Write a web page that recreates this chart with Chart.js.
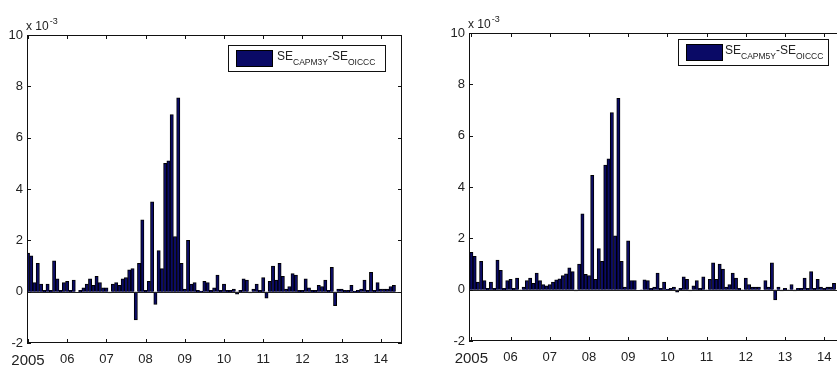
<!DOCTYPE html>
<html>
<head>
<meta charset="utf-8">
<script src="https://cdn.jsdelivr.net/npm/chart.js@4.4.1/dist/chart.umd.min.js"></script>
<style>
  html, body { margin: 0; padding: 0; background: #fff; overflow: hidden; width: 837px; height: 365px; }
  .panel { position: absolute; top: 0; height: 365px; }
  #left { left: 0; width: 420px; }
  #right { left: 420px; width: 440px; }
</style>
</head>
<body>
<div class="panel" id="left"><canvas id="chart3y"></canvas></div>
<div class="panel" id="right"><canvas id="chart5y"></canvas></div>
<script>
// monthly values, Jan 2005 .. Apr 2014, in units of 1e-3
const se3y = [
  1.5, 1.4, 0.35, 1.1, 0.3, 0.05, 0.3, 0.05, 1.2, 0.5, 0.05, 0.35,
  0.4, 0.05, 0.45, 0.0, 0.05, 0.15, 0.3, 0.5, 0.25, 0.6, 0.35, 0.15,
  0.15, -0.05, 0.3, 0.35, 0.25, 0.5, 0.55, 0.85, 0.9, -1.1, 1.1, 2.8,
  0.05, 0.4, 3.5, -0.5, 1.6, 0.9, 5.0, 5.1, 6.9, 2.15, 7.55, 1.1,
  0.1, 2.0, 0.3, 0.35, 0.05, 0.02, 0.4, 0.35, 0.05, 0.15, 0.65, 0.05,
  0.3, 0.05, 0.05, 0.1, -0.1, 0.05, 0.5, 0.45, -0.05, 0.1, 0.3, 0.05,
  0.55, -0.25, 0.4, 1.0, 0.45, 1.1, 0.6, 0.1, 0.2, 0.7, 0.65, 0.05,
  0.05, 0.5, 0.15, 0.05, 0.05, 0.25, 0.2, 0.45, 0.05, 0.95, -0.55, 0.1,
  0.1, 0.05, 0.05, 0.25, 0.02, 0.05, 0.1, 0.45, 0.05, 0.75, 0.05, 0.35,
  0.1, 0.1, 0.1, 0.2, 0.25
];

const se5y = [
  1.45, 1.3, 0.3, 1.1, 0.35, 0.05, 0.3, 0.05, 1.15, 0.75, 0.05, 0.35,
  0.4, 0.05, 0.45, -0.02, 0.1, 0.35, 0.45, 0.25, 0.65, 0.35, 0.2, 0.15,
  0.2, 0.3, 0.38, 0.42, 0.55, 0.62, 0.85, 0.7, -0.05, 1.0, 2.95, 0.6,
  0.55, 4.45, 0.4, 1.6, 1.1, 4.85, 5.1, 6.9, 2.1, 7.45, 1.1, 0.1,
  1.9, 0.35, 0.35, 0.0, -0.02, 0.38, 0.35, 0.05, 0.1, 0.65, 0.05, 0.3,
  0.02, 0.05, 0.1, -0.1, 0.05, 0.5, 0.4, -0.05, 0.15, 0.35, 0.05, 0.5,
  -0.02, 0.4, 1.05, 0.4, 1.0, 0.8, 0.1, 0.2, 0.65, 0.45, 0.05, -0.02,
  0.45, 0.2, 0.1, 0.1, 0.1, 0.0, 0.35, 0.1, 1.05, -0.4, 0.1, -0.05,
  0.05, -0.03, 0.2, -0.05, 0.05, 0.05, 0.45, 0.05, 0.7, 0.05, 0.4, 0.1,
  0.05, 0.1, 0.1, 0.25
];

const startYear = 2005;
const tickYears = [2005, 2006, 2007, 2008, 2009, 2010, 2011, 2012, 2013, 2014];
const tickLabels = ['2005', '06', '07', '08', '09', '10', '11', '12', '13', '14'];
const yTicks = [-2, 0, 2, 4, 6, 8, 10];

const barFill = '#0a0a66';
const textColor = '#222';
const fontFamily = "'Liberation Sans', Arial, sans-serif";

// bar positions in fractional years (one bar per month)
const toPoints = (vals) => vals.map((v, i) => ({ x: startYear + i / 12, y: v }));

// draws the MATLAB-like box, inward ticks, zero baseline, exponent and legend
const matlabAxes = {
  id: 'matlabAxes',
  afterDatasetsDraw(chart, args, opts) {
    const { ctx, chartArea: a, scales: { x, y } } = chart;
    ctx.save();

    const y0 = Math.round(y.getPixelForValue(0)) + 0.5;
    ctx.strokeStyle = '#222';
    ctx.lineWidth = 1;
    ctx.beginPath();
    ctx.moveTo(a.left, y0);
    ctx.lineTo(a.right, y0);
    ctx.stroke();

    ctx.strokeStyle = '#111';
    ctx.strokeRect(a.left + 0.5, a.top + 0.5, a.width - 1, a.height - 1);

    const tl = 4;
    ctx.beginPath();
    tickYears.forEach(v => {
      const px = Math.round(x.getPixelForValue(v)) + 0.5;
      ctx.moveTo(px, a.bottom); ctx.lineTo(px, a.bottom - tl);
      ctx.moveTo(px, a.top); ctx.lineTo(px, a.top + tl);
    });
    yTicks.forEach(v => {
      const py = Math.round(y.getPixelForValue(v)) + 0.5;
      ctx.moveTo(a.left, py); ctx.lineTo(a.left + tl, py);
      ctx.moveTo(a.right, py); ctx.lineTo(a.right - tl, py);
    });
    ctx.stroke();

    // exponent label
    ctx.fillStyle = textColor;
    ctx.textBaseline = 'alphabetic';
    ctx.textAlign = 'left';
    ctx.font = `12px ${fontFamily}`;
    const ex = a.left - 1, ey = a.top - 5;
    ctx.fillText('x 10', ex, ey);
    const w10 = ctx.measureText('x 10').width;
    ctx.font = `9px ${fontFamily}`;
    ctx.fillText('-3', ex + w10 + 1, ey - 6);

    // legend
    const lg = opts.legend;
    const bx = a.right - lg.right - lg.w, by = a.top + lg.top;
    ctx.fillStyle = '#fff';
    ctx.fillRect(bx, by, lg.w, lg.h);
    ctx.strokeStyle = '#111';
    ctx.strokeRect(bx + 0.5, by + 0.5, lg.w, lg.h);
    ctx.fillStyle = barFill;
    ctx.fillRect(bx + 8, by + 5, 36, lg.h - 10);
    ctx.strokeStyle = '#000';
    ctx.strokeRect(bx + 8.5, by + 5.5, 36, lg.h - 10);

    let tx = bx + lg.textX;
    const base = by + 15;
    const parts = [['SE', 12, 0], [lg.sub, 8.5, 5], ['-SE', 12, 0], ['OICCC', 8.5, 5]];
    ctx.fillStyle = textColor;
    parts.forEach(([t, size, dy]) => {
      ctx.font = `${size}px ${fontFamily}`;
      ctx.fillText(t, tx, base + dy);
      tx += ctx.measureText(t).width;
    });
    ctx.restore();
  }
};

const makeChart = (id, vals, box) => new Chart(document.getElementById(id), {
  type: 'bar',
  data: {
    datasets: [{
      data: toPoints(vals),
      backgroundColor: barFill,
      borderColor: '#000',
      borderWidth: 1,
      barPercentage: 1,
      categoryPercentage: 1,
    }],
  },
  options: {
    responsive: true,
    maintainAspectRatio: false,
    animation: false,
    layout: { padding: { left: box.padLeft, right: box.padRight, top: box.top, bottom: 0 } },
    plugins: {
      legend: { display: false },
      tooltip: { enabled: false },
      matlabAxes: { legend: box.legend },
    },
    scales: {
      x: {
        type: 'linear',
        offset: false,
        min: box.xMin,
        max: box.xMin + 9.565,
        grid: { display: false, drawTicks: false },
        border: { display: false },
        afterBuildTicks: (scale) => { scale.ticks = tickYears.map(v => ({ value: v })); },
        afterFit: (scale) => { scale.height = box.xAxisH; },
        ticks: {
          autoSkip: false,
          maxRotation: 0,
          padding: 9,
          color: textColor,
          font: (c) => ({ family: fontFamily, size: c.index === 0 ? 15 : 13 }),
          callback: (v) => tickLabels[tickYears.indexOf(v)],
        },
      },
      y: {
        min: -2,
        max: 10,
        grid: { display: false, drawTicks: false },
        border: { display: false },
        afterFit: (scale) => { scale.width = box.yAxisW; },
        afterBuildTicks: (scale) => { scale.ticks = yTicks.map(v => ({ value: v })); },
        ticks: {
          padding: 4,
          color: textColor,
          font: { family: fontFamily, size: 13 },
        },
      },
    },
  },
  plugins: [matlabAxes],
});

makeChart('chart3y', se3y, {
  padLeft: 0, yAxisW: 27, padRight: 18, top: 35, xAxisH: 22, xMin: 2004.975,
  legend: { right: 17, top: 10, w: 157, h: 26, sub: 'CAPM3Y', textX: 49 },
});

makeChart('chart5y', se5y, {
  padLeft: 22, yAxisW: 27, padRight: 16, top: 33, xAxisH: 24, xMin: 2004.94,
  legend: { right: 16, top: 6, w: 150, h: 26, sub: 'CAPM5Y', textX: 47 },
});
</script>
</body>
</html>
